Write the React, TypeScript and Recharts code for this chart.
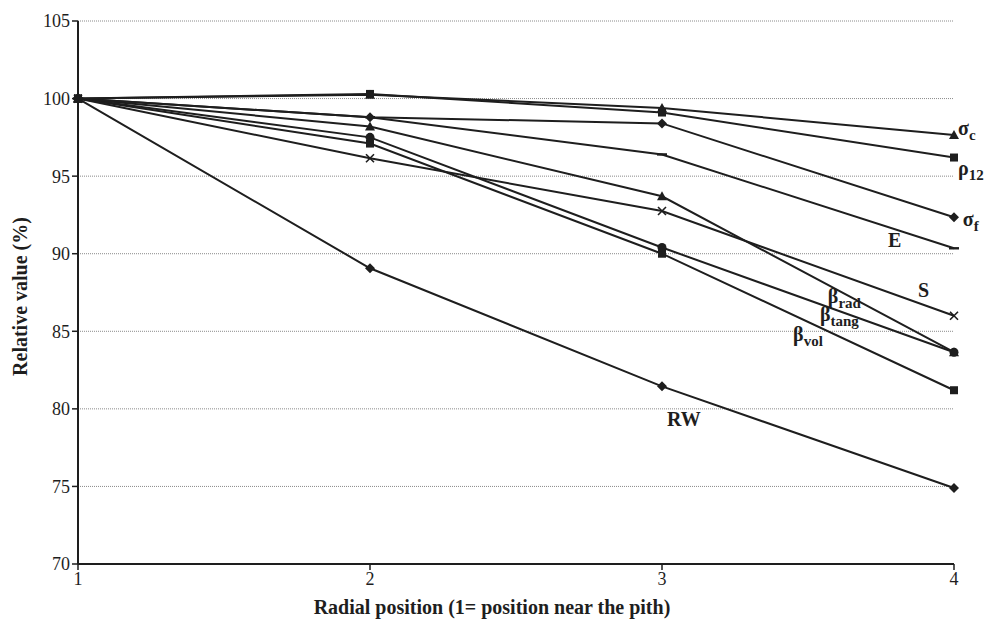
import React from 'react';
import { LineChart, Line, XAxis, YAxis, CartesianGrid, ReferenceDot } from 'recharts';

const positions = [1, 2, 3, 4];
const sigmaC = [100, 100.25, 99.4, 97.65];
const rho12 = [100, 100.3, 99.1, 96.2];
const sigmaF = [100, 98.8, 98.4, 92.35];
const modE = [100, 98.8, 96.4, 90.35];
const shrinkS = [100, 96.15, 92.75, 86.0];
const betaRad = [100, 98.2, 93.7, 83.65];
const betaTang = [100, 97.5, 90.4, 83.65];
const betaVol = [100, 97.1, 90.0, 81.2];
const ringWidth = [100, 89.06, 81.45, 74.9];

const yTicks = [70, 75, 80, 85, 90, 95, 100, 105];
const xTicks = [1, 2, 3, 4];

const data = positions.map((p, i) => ({
  pos: p,
  sigmaC: sigmaC[i],
  rho12: rho12[i],
  sigmaF: sigmaF[i],
  modE: modE[i],
  shrinkS: shrinkS[i],
  betaRad: betaRad[i],
  betaTang: betaTang[i],
  betaVol: betaVol[i],
  ringWidth: ringWidth[i],
}));

const FONT = '"Liberation Serif", "Times New Roman", serif';
const INK = '#1e1e1e';

type Shape = 'triangle' | 'square' | 'diamond' | 'dash' | 'cross' | 'circle';

const makeDot = (shape: Shape) => (props: any) => {
  const { cx, cy, index } = props;
  const k = `d-${shape}-${index}`;
  if (cx == null || cy == null) return <g key={k} />;
  switch (shape) {
    case 'triangle':
      return <path key={k} d={`M${cx},${cy - 5} L${cx + 5},${cy + 4} L${cx - 5},${cy + 4} Z`} fill={INK} />;
    case 'square':
      return <rect key={k} x={cx - 4} y={cy - 4} width={8} height={8} fill={INK} />;
    case 'diamond':
      return <path key={k} d={`M${cx},${cy - 5} L${cx + 5},${cy} L${cx},${cy + 5} L${cx - 5},${cy} Z`} fill={INK} />;
    case 'dash':
      return <rect key={k} x={cx - 5} y={cy - 1.2} width={10} height={2.4} fill={INK} />;
    case 'cross':
      return (
        <path key={k} d={`M${cx - 4},${cy - 4} L${cx + 4},${cy + 4} M${cx + 4},${cy - 4} L${cx - 4},${cy + 4}`} stroke={INK} strokeWidth={1.6} fill="none" />
      );
    case 'circle':
    default:
      return <circle key={k} cx={cx} cy={cy} r={4.5} fill={INK} />;
  }
};

const seriesDefs: { key: string; shape: Shape }[] = [
  { key: 'ringWidth', shape: 'diamond' },
  { key: 'betaVol', shape: 'square' },
  { key: 'betaTang', shape: 'circle' },
  { key: 'betaRad', shape: 'triangle' },
  { key: 'shrinkS', shape: 'cross' },
  { key: 'modE', shape: 'dash' },
  { key: 'sigmaF', shape: 'diamond' },
  { key: 'rho12', shape: 'square' },
  { key: 'sigmaC', shape: 'triangle' },
];

const annotations = [
  { main: 'σ', sub: 'c', x: 4.014, y: 97.65 },
  { main: 'ρ', sub: '12', x: 4.014, y: 95.06 },
  { main: 'σ', sub: 'f', x: 4.03, y: 91.77 },
  { main: 'E', sub: '', x: 3.774, y: 90.42 },
  { main: 'S', sub: '', x: 3.877, y: 87.19 },
  { main: 'β', sub: 'rad', x: 3.568, y: 86.81 },
  { main: 'β', sub: 'tang', x: 3.541, y: 85.65 },
  { main: 'β', sub: 'vol', x: 3.449, y: 84.35 },
  { main: 'RW', sub: '', x: 3.017, y: 78.87 },
];

const makeAnnotation = (main: string, sub: string) => (props: any) => {
  const { cx, cy } = props;
  return (
    <text x={cx} y={cy} fontFamily={FONT} fontWeight="bold" fontSize={20} fill={INK}>
      <tspan>{main}</tspan>
      {sub ? (
        <tspan dy={5} fontSize={15}>
          {sub}
        </tspan>
      ) : null}
    </text>
  );
};

const YTitle = (props: any) => {
  const vb = props.viewBox || { x: 0, y: 21, width: 78, height: 543 };
  const cy = vb.y + vb.height / 2 + 4;
  return (
    <text
      transform={`translate(27, ${cy}) rotate(-90)`}
      textAnchor="middle"
      fontFamily={FONT}
      fontWeight="bold"
      fontSize={20}
      fill={INK}
    >
      Relative value (%)
    </text>
  );
};

const XTitle = (props: any) => {
  const vb = props.viewBox || { x: 78, y: 564, width: 876, height: 61 };
  const cx = vb.x + vb.width / 2 - 24;
  return (
    <text x={cx} y={vb.y + vb.height - 11} textAnchor="middle" fontFamily={FONT} fontWeight="bold" fontSize={20} fill={INK}>
      Radial position (1= position near the pith)
    </text>
  );
};

export default function App() {
  return (
    <div style={{ position: 'absolute', left: 0, top: 0, background: '#fff' }}>
      <LineChart width={985} height={625} data={data} margin={{ top: 21, right: 31, bottom: 0, left: 0 }}>
        <CartesianGrid vertical={false} stroke="#8a8a8a" strokeDasharray="1 1" strokeWidth={1} />
        <XAxis
          dataKey="pos"
          type="number"
          domain={[1, 4]}
          ticks={xTicks}
          height={61}
          stroke={INK}
          strokeWidth={2}
          tickSize={6}
          tickLine={{ stroke: INK, strokeWidth: 1.5 }}
          tick={{ fill: INK, fontSize: 18, fontFamily: FONT }}
          label={{ content: (p: any) => <XTitle {...p} /> }}
        />
        <YAxis
          type="number"
          domain={[70, 105]}
          ticks={yTicks}
          width={78}
          stroke={INK}
          strokeWidth={2}
          tickSize={6}
          tickLine={{ stroke: INK, strokeWidth: 1.5 }}
          tick={{ fill: INK, fontSize: 18, fontFamily: FONT }}
          label={{ content: (p: any) => <YTitle {...p} /> }}
        />
        {seriesDefs.map((s) => (
          <Line
            key={s.key}
            dataKey={s.key}
            type="linear"
            stroke={INK}
            strokeWidth={2}
            dot={makeDot(s.shape)}
            activeDot={false}
            isAnimationActive={false}
          />
        ))}
        {annotations.map((a, i) => (
          <ReferenceDot
            key={`ann-${i}`}
            x={a.x}
            y={a.y}
            r={0}
            ifOverflow="visible"
            shape={makeAnnotation(a.main, a.sub)}
          />
        ))}
      </LineChart>
    </div>
  );
}
